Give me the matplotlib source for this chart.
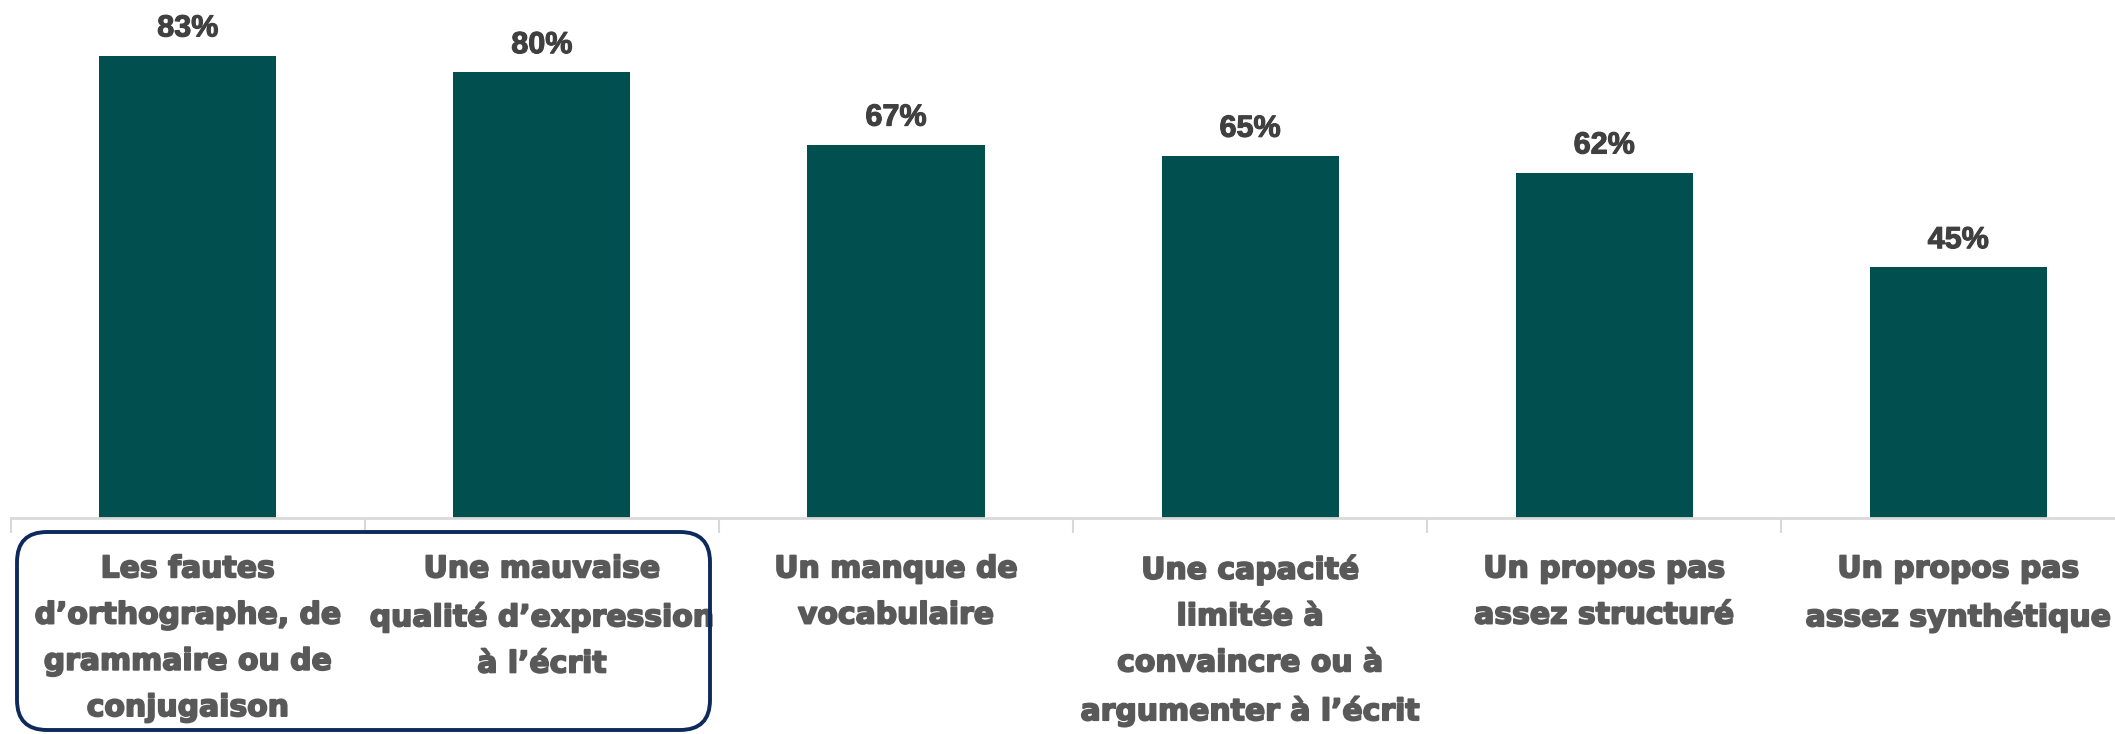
import matplotlib.pyplot as plt
import matplotlib.patheffects as pe
from matplotlib.patches import FancyBboxPatch
from matplotlib.transforms import IdentityTransform

categories = [
    "Les fautes\nd\u2019orthographe, de\ngrammaire ou de\nconjugaison",
    "Une mauvaise\nqualit\u00e9 d\u2019expression\n\u00e0 l\u2019\u00e9crit",
    "Un manque de\nvocabulaire",
    "Une capacit\u00e9\nlimit\u00e9e \u00e0\nconvaincre ou \u00e0\nargumenter \u00e0 l\u2019\u00e9crit",
    "Un propos pas\nassez structur\u00e9",
    "Un propos pas\nassez synth\u00e9tique",
]
values = [83, 80, 67, 65, 62, 45]

plt.rcParams['font.family'] = ['Liberation Sans', 'DejaVu Sans']

fig = plt.figure(figsize=(21.15, 7.34), dpi=100)
ax = fig.add_axes([0.0051, 0.294, 1.0045, 0.706])

x = range(len(values))
bars = ax.bar(x, values, width=0.5, color='#024f50')
ax.set_xlim(-0.5, len(values) - 0.5)
ax.set_ylim(0, 93)

for b, v in zip(bars, values):
    ax.text(b.get_x() + b.get_width() / 2, v + 2.2, f"{v}%", ha='center', va='bottom',
            fontsize=22, fontweight='bold', color='#404040',
            path_effects=[pe.withStroke(linewidth=0.8, foreground='#404040')])

ax.set_xticks(list(x))
labels = ax.set_xticklabels(categories, fontsize=21.5, fontweight='bold', color='#595959',
                            linespacing=1.75, va='top', family='DejaVu Sans')
for t in labels:
    t.set_path_effects([pe.withStroke(linewidth=1.3, foreground='#595959')])
ax.tick_params(axis='x', which='major', length=0, pad=26)
ax.set_xticks([i - 0.5 for i in range(len(values) + 1)], minor=True)
ax.tick_params(axis='x', which='minor', length=11, color='#d9d9d9', width=1.5)
ax.set_yticks([])
for s in ['top', 'right', 'left']:
    ax.spines[s].set_visible(False)
ax.spines['bottom'].set_color('#d9d9d9')
ax.spines['bottom'].set_linewidth(2)

# rounded frame around the first two labels, in pixels
box = FancyBboxPatch((17, 4), 693, 198, boxstyle="round,pad=0,rounding_size=30",
                     transform=IdentityTransform(), fill=False,
                     edgecolor='#0e2a5c', linewidth=2.8)
fig.add_artist(box)

fig.savefig('out.png', dpi=100)
